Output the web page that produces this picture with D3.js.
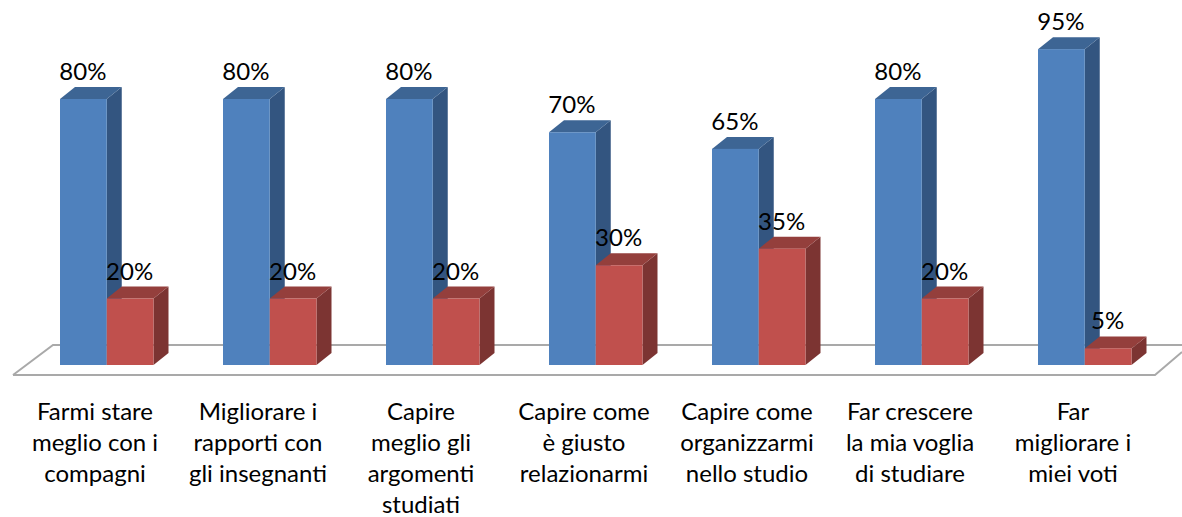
<!DOCTYPE html>
<html><head><meta charset="utf-8">
<script src="https://cdnjs.cloudflare.com/ajax/libs/d3/7.8.5/d3.min.js"></script>
<style>html,body{margin:0;padding:0;background:#fff}svg{display:block}text{font-family:Lato,"Open Sans",sans-serif;fill:#000}</style>
</head><body><div id="c"></div>
<script>
const categories=[
 ["Farmi stare","meglio con i","compagni"],
 ["Migliorare i","rapporti con","gli insegnanti"],
 ["Capire","meglio gli","argomenti","studiati"],
 ["Capire come","è giusto","relazionarmi"],
 ["Capire come","organizzarmi","nello studio"],
 ["Far crescere","la mia voglia","di studiare"],
 ["Far","migliorare i","miei voti"]];
const seriesNames=["blu","rosso"];
const blueValues=[80,80,80,70,65,80,95];
const redValues=[20,20,20,30,35,20,5];
const W=1182,H=517,baseY=365,dx=15,dy=12;
const ids=categories.map((_,i)=>i);
const x=d3.scaleBand().domain(ids).range([25.5,1166.5]);
const x1=d3.scaleBand().domain(seriesNames).range([34.5,128]);
const y=d3.scaleLinear().domain([0,100]).range([baseY,32.5]);
const pal={blu:{front:"#4f81bd",top:"#3d6594",side:"#335580"},rosso:{front:"#c0504d",top:"#943f3c",side:"#7c3432"}};
const svg=d3.select("#c").append("svg").attr("width",W).attr("height",H);
// floor
svg.append("path").attr("d","M13,375L53,345L1182,345").attr("fill","none").attr("stroke","#a9a9a9").attr("stroke-width",2);
svg.append("path").attr("d","M13,375L1155,375L1182,352").attr("fill","none").attr("stroke","#a9a9a9").attr("stroke-width",2);
const rows=[];
ids.forEach(i=>{rows.push({i,s:"blu",v:blueValues[i]});rows.push({i,s:"rosso",v:redValues[i]});});
const g=svg.selectAll("g.bar").data(rows).join("g").attr("class","bar");
const X=d=>x(d.i)+x1(d.s), B=x1.bandwidth();
g.append("path").attr("fill",d=>pal[d.s].side).attr("d",d=>{const a=X(d)+B,t=y(d.v);return `M${a},${t}l${dx},${-dy}L${a+dx},${baseY-dy}L${a},${baseY}Z`;});
g.append("path").attr("fill",d=>pal[d.s].top).attr("d",d=>{const a=X(d),t=y(d.v);return `M${a},${t}l${dx},${-dy}h${B}l${-dx},${dy}Z`;});
g.append("rect").attr("fill",d=>pal[d.s].front).attr("x",X).attr("y",d=>y(d.v)).attr("width",B).attr("height",d=>baseY-y(d.v));
svg.selectAll("text.val").data(rows).join("text").attr("class","val")
 .attr("x",d=>X(d)+B/2-0.5).attr("y",d=>y(d.v)-19).attr("text-anchor","middle").attr("font-size",24).text(d=>d.v+"%");
const lab=svg.selectAll("text.cat").data(ids).join("text").attr("class","cat").attr("text-anchor","middle").attr("font-size",24);
lab.selectAll("tspan").data(i=>categories[i].map((t,k)=>({t,k,i}))).join("tspan")
 .attr("x",d=>x(d.i)+x.bandwidth()/2-12).attr("y",d=>419.5+d.k*31.3).text(d=>d.t);
</script></body></html>
